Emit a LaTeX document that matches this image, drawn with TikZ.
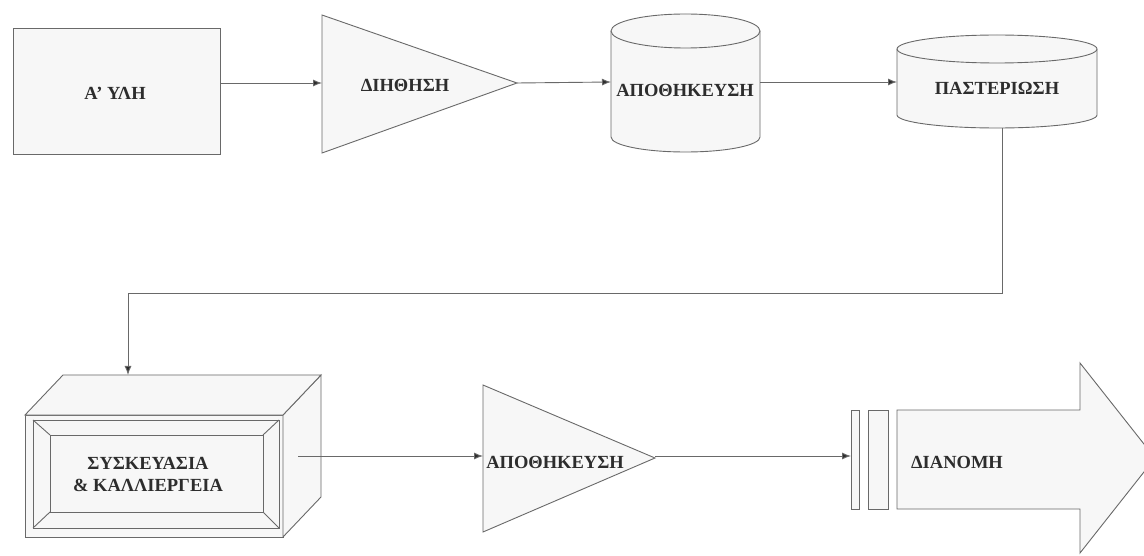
\documentclass[tikz,border=0pt]{standalone}
\usepackage{fontspec}
\setmainfont{Liberation Serif}
\usetikzlibrary{arrows.meta}
\definecolor{ln}{RGB}{105,105,105}
\definecolor{tx}{RGB}{45,45,45}
\definecolor{fl}{RGB}{247,247,247}
\begin{document}
\begin{tikzpicture}[x=1pt,y=1pt,
  shp/.style={draw=ln,line width=0.9pt,fill=fl},
  edge/.style={draw=ln,line width=0.9pt},
  conn/.style={draw=ln,line width=0.9pt,-{Latex[length=9pt,width=7pt,fill=tx]}},
  lbl/.style={font=\fontsize{18.5}{22}\selectfont\bfseries,text=tx,align=center,inner sep=0pt}]
\useasboundingbox (0,0) rectangle (1144,555);
\fill[white] (0,0) rectangle (1144,555);
\clip (0,0) rectangle (1144,555);

% A' YLH box
\node[shp,minimum width=207pt,minimum height=126pt,inner sep=0pt] (raw) at (116.5,464) {};
\node[lbl] (rawt) at (115,462) {Α’ ΥΛΗ};

% triangle 1
\draw[shp] (322,540) -- (517,472) -- (322,402) -- cycle;
\coordinate (t1w) at (322,472);
\coordinate (t1e) at (517,472);
\node[lbl] (t1t) at (405,470) {ΔΙΗΘΗΣΗ};

% cylinder 1
\draw[shp] (611,524) -- (611,418) arc[start angle=180,end angle=360,x radius=74.5pt,y radius=15pt]
  -- (760,524) arc[start angle=0,end angle=180,x radius=74.5pt,y radius=17pt] -- cycle;
\draw[edge] (611,524) arc[start angle=180,end angle=360,x radius=74.5pt,y radius=17pt];
\coordinate (c1w) at (611,473);
\coordinate (c1e) at (760,473);
\node[lbl] (c1t) at (685,465) {ΑΠΟΘΗΚΕΥΣΗ};

% cylinder 2
\draw[shp] (897,506) -- (897,440) arc[start angle=180,end angle=360,x radius=100pt,y radius=13pt]
  -- (1097,506) arc[start angle=0,end angle=180,x radius=100pt,y radius=14pt] -- cycle;
\draw[edge] (897,506) arc[start angle=180,end angle=360,x radius=100pt,y radius=14pt];
\coordinate (c2w) at (897,473);
\coordinate (c2s) at (1002,427.2);
\node[lbl] (c2t) at (997,467) {ΠΑΣΤΕΡΙΩΣΗ};

% 3D box
\draw[shp] (25,18) rectangle (283,140);
\draw[shp] (283,140) -- (321,180) -- (321,58) -- (283,18) -- cycle;
\draw[shp] (25,140) -- (63,180) -- (321,180) -- (283,140) -- cycle;
\draw[edge] (33,27) rectangle (279,135);
\draw[edge] (50,43) rectangle (263,120);
\draw[edge] (33,27) -- (50,43) (279,27) -- (263,43) (279,135) -- (263,120) (33,135) -- (50,120);
\coordinate (bxn) at (128,180);
\coordinate (bxe) at (298,99);
\node[lbl] (bxt) at (148,81) {ΣΥΣΚΕΥΑΣΙΑ\\\& ΚΑΛΛΙΕΡΓΕΙΑ};

% triangle 2
\draw[shp] (483,170) -- (655,97) -- (483,23) -- cycle;
\coordinate (t2w) at (483,99);
\coordinate (t2e) at (655,99);
\node[lbl] (t2t) at (555,93) {ΑΠΟΘΗΚΕΥΣΗ};

% bars and big arrow
\draw[shp] (851,46) rectangle (859,145);
\draw[shp] (868,46) rectangle (888,145);
\draw[shp] (897,46) -- (897,145) -- (1080,145) -- (1080,192) -- (1155,97) -- (1080,2) -- (1080,46) -- cycle;
\coordinate (b1w) at (851,99);
\node[lbl] (dt) at (957,93) {ΔΙΑΝΟΜΗ};

% connectors
\draw[conn] ([yshift=8pt]raw.east) -- (t1w);
\draw[conn] (t1e) -- (c1w);
\draw[conn] (c1e) -- (c2w);
\draw[conn] (c2s) -- (c2s |- 0,262) -| (bxn);
\draw[conn] (bxe) -- (t2w);
\draw[conn] (t2e) -- (b1w);
\end{tikzpicture}
\end{document}
